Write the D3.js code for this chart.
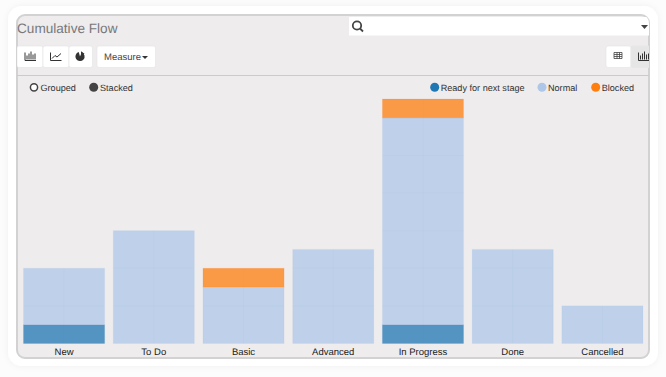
<!DOCTYPE html>
<html>
<head>
<meta charset="utf-8">
<script src="https://cdn.jsdelivr.net/npm/d3@7"></script>
<style>
html, body { margin: 0; padding: 0; background: #fcfcfc; overflow: hidden; }
text { font-family: "Liberation Sans", Arial, sans-serif; text-rendering: geometricPrecision; }
</style>
</head>
<body>
<div id="canvas"></div>
<script>
var width = 666;
var height = 377;

// values
const categories = ["New", "To Do", "Basic", "Advanced", "In Progress", "Done", "Cancelled"];
const ready = [1, 0, 0, 0, 1, 0, 0];
const normal = [3, 6, 3, 5, 11, 5, 2];
const blocked = [0, 0, 1, 0, 1, 0, 0];
const seriesNames = ["Ready for next stage", "Normal", "Blocked"];
const seriesColors = ["#1f77b4", "#aec7e8", "#ff7f0e"];
const yTicks = [2, 4, 6, 8, 10, 12];

var svg = d3.select("#canvas").append("svg")
    .attr("width", width)
    .attr("height", height)
    .style("display", "block");

var defs = svg.append("defs");
var shadow = defs.append("filter").attr("id", "soft")
    .attr("x", "-5%").attr("y", "-5%").attr("width", "110%").attr("height", "110%");
shadow.append("feDropShadow")
    .attr("dx", 0).attr("dy", 0).attr("stdDeviation", 3)
    .attr("flood-color", "#000").attr("flood-opacity", 0.05);
defs.append("clipPath").attr("id", "panel").append("rect")
    .attr("x", 17).attr("y", 15).attr("width", 632).attr("height", 343).attr("rx", 8);

// white card and grey panel
svg.append("rect").attr("x", 8).attr("y", 6).attr("width", 650).attr("height", 360).attr("rx", 14)
    .attr("fill", "#fff").attr("filter", "url(#soft)");
svg.append("rect").attr("x", 17).attr("y", 15).attr("width", 632).attr("height", 343).attr("rx", 8)
    .attr("fill", "#eeeced").attr("stroke", "#d2d2d2").attr("stroke-width", 2);

var panel = svg.append("g").attr("clip-path", "url(#panel)");

panel.append("text").attr("x", 17).attr("y", 32.500)
    .attr("font-size", 13.600).attr("fill", "#77787a").text("Cumulative Flow");

// search box
panel.append("rect").attr("x", 349).attr("y", 17).attr("width", 301).attr("height", 18.500).attr("fill", "#fff");
var lens = panel.append("g").attr("fill", "none").attr("stroke", "#444").attr("stroke-width", 1.800);
lens.append("circle").attr("cx", 357).attr("cy", 25.500).attr("r", 4.200);
lens.append("line").attr("x1", 360).attr("y1", 28.500).attr("x2", 363).attr("y2", 31.500);
panel.append("path").attr("d", "M641 25h7l-3.500 4z").attr("fill", "#444");

// toolbar buttons
function button(x, w, fill) {
    panel.append("rect").attr("x", x).attr("y", 46).attr("width", w).attr("height", 21.500).attr("rx", 2)
        .attr("fill", fill || "#fff").attr("stroke", "#e6e6e6").attr("stroke-width", 0.700);
}
button(17, 26); button(43, 26); button(69, 23.500); button(97, 58.500);
button(606, 25); button(631, 25, "#e6e6e6");

function barIcon(x, y) {
    var d = "M" + x + " " + (y - 8) + "v8h11";
    [[2, 4], [4, 6], [6, 8], [8, 5], [10, 6]].forEach(function (b) { d += "M" + (x + b[0]) + " " + (y - 1) + "v-" + b[1]; });
    panel.append("path").attr("d", d).attr("fill", "none").attr("stroke", "#333").attr("stroke-width", 1);
}
barIcon(25, 60.500);
barIcon(638.500, 60.500);
panel.append("path").attr("d", "M50.500 52.500v8h11M52 58.500l3-3 2 1.500 4-3.500")
    .attr("fill", "none").attr("stroke", "#333").attr("stroke-width", 1);
panel.append("path").attr("d", d3.arc().innerRadius(0).outerRadius(4.600).startAngle(0.4).endAngle(6)())
    .attr("transform", "translate(80,56.500)").attr("fill", "#333");
panel.append("path").attr("d", "M81 51.200l3.500 2.500-3.500 2z").attr("fill", "#333");
panel.append("text").attr("x", 104).attr("y", 60).attr("font-size", 9.500).attr("fill", "#444").text("Measure");
panel.append("path").attr("d", "M142 56h6l-3 3z").attr("fill", "#333");
panel.append("path").attr("d", "M614 52.500h8v6h-8zM614 54.500h8M614 56.500h8M617 52.500v6M619.500 52.500v6")
    .attr("fill", "none").attr("stroke", "#444").attr("stroke-width", 0.800);

panel.append("line").attr("x1", 17).attr("x2", 650).attr("y1", 75.500).attr("y2", 75.500)
    .attr("stroke", "#cccaca").attr("stroke-width", 1);

// grouped / stacked switch
var legendFont = 9.100;
panel.append("circle").attr("cx", 34).attr("cy", 87.300).attr("r", 3.600)
    .attr("fill", "#fff").attr("stroke", "#444").attr("stroke-width", 1.500);
panel.append("text").attr("x", 40.500).attr("y", 90.500).attr("font-size", legendFont).attr("fill", "#333").text("Grouped");
panel.append("circle").attr("cx", 93.700).attr("cy", 87.300).attr("r", 4.500).attr("fill", "#444");
panel.append("text").attr("x", 100).attr("y", 90.500).attr("font-size", legendFont).attr("fill", "#333").text("Stacked");

// series legend
const legendX = [434.700, 542, 595.700];
seriesNames.forEach(function (name, i) {
    panel.append("circle").attr("cx", legendX[i]).attr("cy", 87.300).attr("r", 4.500)
        .attr("fill", seriesColors[i]);
    panel.append("text").attr("x", legendX[i] + 6).attr("y", 90.500)
        .attr("font-size", legendFont).attr("fill", "#333").text(name);
});

const xScale = d3.scaleBand().domain(categories).range([23.500, 643]).paddingInner(0.096).paddingOuter(0);
const yScale = d3.scaleLinear().domain([0, 13]).range([343.500, 99]);

const rows = categories.map((c, i) => ({ cat: c, ready: ready[i], normal: normal[i], blocked: blocked[i] }));
const stacked = d3.stack().keys(["ready", "normal", "blocked"])(rows);

panel.selectAll(".layer").data(stacked).enter().append("g")
    .attr("fill", (d, i) => seriesColors[i])
    .attr("stroke", (d, i) => seriesColors[i])
    .attr("fill-opacity", 0.75)
    .attr("stroke-opacity", 0.12)
    .selectAll("rect").data(d => d.filter(p => p[1] > p[0])).enter().append("rect")
    .attr("x", d => xScale(d.data.cat))
    .attr("width", xScale.bandwidth())
    .attr("y", d => yScale(d[1]))
    .attr("height", d => yScale(d[0]) - yScale(d[1]));

// faint grid only shows through the bars
const totals = categories.map((c, i) => ready[i] + normal[i] + blocked[i]);
var grid = panel.append("g").attr("stroke", "#7f9fc6").attr("stroke-opacity", 0.035);
grid.selectAll(".gx").data(categories).enter().append("line")
    .attr("x1", d => xScale(d) + xScale.bandwidth() / 2)
    .attr("x2", d => xScale(d) + xScale.bandwidth() / 2)
    .attr("y1", (d, i) => yScale(totals[i]))
    .attr("y2", yScale(0));
const gridRows = categories.flatMap((c, i) => yTicks.filter(t => t < totals[i]).map(t => ({ cat: c, tick: t })));
grid.selectAll(".gy").data(gridRows).enter().append("line")
    .attr("x1", d => xScale(d.cat))
    .attr("x2", d => xScale(d.cat) + xScale.bandwidth())
    .attr("y1", d => yScale(d.tick))
    .attr("y2", d => yScale(d.tick));

panel.append("g").selectAll("text").data(categories).enter().append("text")
    .attr("x", d => xScale(d) + xScale.bandwidth() / 2)
    .attr("y", 355.300)
    .attr("text-anchor", "middle")
    .attr("font-size", 9.500)
    .attr("fill", "#222")
    .text(d => d);
</script>
</body>
</html>
